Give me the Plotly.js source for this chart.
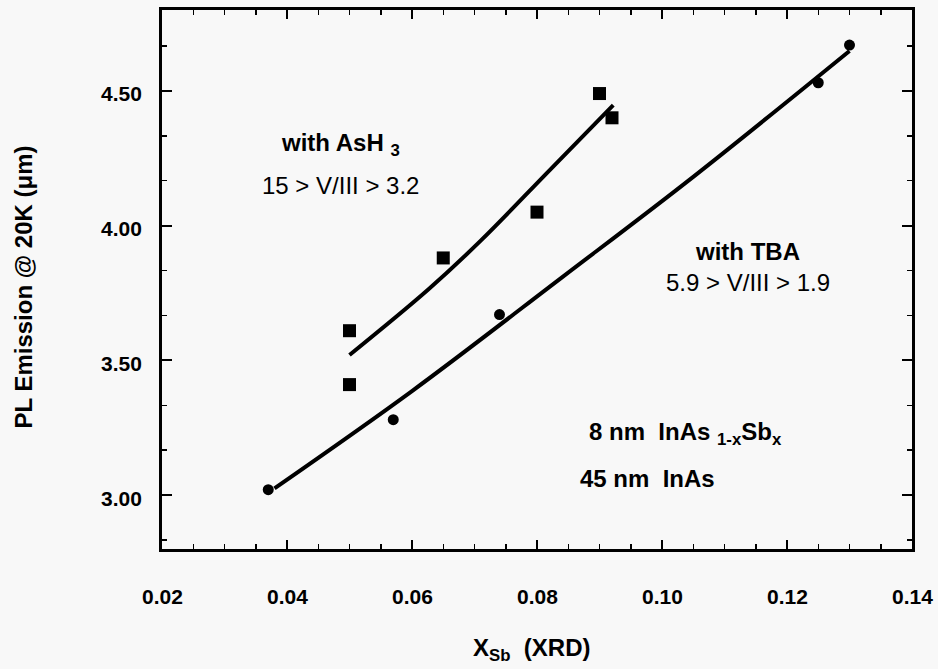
<!DOCTYPE html>
<html>
<head>
<meta charset="utf-8">
<script src="https://cdn.plot.ly/plotly-3.0.1.min.js"></script>
<style>html,body{margin:0;padding:0;background:#f8f8f8;}</style>
</head>
<body>
<div id="chart" style="width:938px;height:669px;"></div>
<script>
// Measured points: samples grown with AsH3 (squares)
const asX = [0.050, 0.050, 0.065, 0.080, 0.090, 0.092];
const asY = [3.61, 3.41, 3.88, 4.05, 4.49, 4.40];
// Measured points: samples grown with TBA (circles)
const tbaX = [0.037, 0.057, 0.074, 0.125, 0.130];
const tbaY = [3.02, 3.28, 3.67, 4.53, 4.67];
// Fit curves
const asFitX = [0.050, 0.0626, 0.071, 0.082, 0.0922];
const asFitY = [3.52, 3.763, 3.944, 4.205, 4.447];
const tbaFitX = [0.038, 0.060, 0.084, 0.105, 0.130];
const tbaFitY = [3.025, 3.386, 3.808, 4.181, 4.648];
// Axis ticks and titles
const xTicks = [0.02, 0.04, 0.06, 0.08, 0.10, 0.12, 0.14];
const xTickText = ['0.02', '0.04', '0.06', '0.08', '0.10', '0.12', '0.14'];
const yTicks = [3.00, 3.50, 4.00, 4.50];
const yTickText = ['3.00', '3.50', '4.00', '4.50'];
const xRange = [0.02, 0.14];
const yRange = [2.8, 4.8];
const xTitle = 'X<sub>Sb</sub>  (XRD)';
const yTitle = 'PL Emission @ 20K (μm)';

const FONT = "'Liberation Sans', Arial, Helvetica, sans-serif";
const tickFont = {family: FONT, size: 21, color: '#000', weight: 'bold'};
const titleFont = {family: FONT, size: 24, color: '#000', weight: 'bold'};

const traces = [
  {x: asFitX, y: asFitY, type: 'scatter', mode: 'lines', line: {color: '#000', width: 4, shape: 'spline'}, hoverinfo: 'skip', showlegend: false},
  {x: tbaFitX, y: tbaFitY, type: 'scatter', mode: 'lines', line: {color: '#000', width: 4, shape: 'spline'}, hoverinfo: 'skip', showlegend: false},
  {x: asX, y: asY, type: 'scatter', mode: 'markers', marker: {symbol: 'square', size: 13, color: '#000'}, name: 'with AsH3', showlegend: false},
  {x: tbaX, y: tbaY, type: 'scatter', mode: 'markers', marker: {symbol: 'circle', size: 11, color: '#000'}, name: 'with TBA', showlegend: false}
];

// tick labels and axis titles as text placed on the axis scales outside the frame
const axisText = [];
xTicks.forEach((v, i) => axisText.push({
  x: v, xref: 'x', y: 0, yref: 'paper', yanchor: 'middle', xanchor: 'center', yshift: -47,
  text: xTickText[i], showarrow: false, font: tickFont
}));
yTicks.forEach((v, i) => axisText.push({
  x: 0, xref: 'paper', y: v, yref: 'y', xanchor: 'right', yanchor: 'middle', xshift: -18, yshift: -3,
  text: yTickText[i], showarrow: false, font: tickFont
}));
axisText.push({
  x: 0.5, xref: 'paper', y: 0, yref: 'paper', yanchor: 'middle', xanchor: 'center', xshift: -6, yshift: -100,
  text: xTitle, showarrow: false, font: titleFont
});
axisText.push({
  x: 0, xref: 'paper', y: 0.5, yref: 'paper', xanchor: 'center', yanchor: 'middle', xshift: -139, yshift: -8,
  textangle: -90, text: yTitle, showarrow: false, font: titleFont
});

const layout = {
  width: 938, height: 669,
  margin: {l: 162, r: 26, t: 10, b: 120},
  paper_bgcolor: '#f8f8f8', plot_bgcolor: '#f8f8f8',
  font: {family: FONT, color: '#000'},
  showlegend: false,
  xaxis: {
    range: xRange, tickmode: 'array', tickvals: xTicks, showticklabels: false,
    showgrid: false, zeroline: false, showline: true, linecolor: '#000', linewidth: 3,
    mirror: 'allticks', ticks: 'inside', tickcolor: '#000', tickwidth: 2, ticklen: 9,
    minor: {dtick: 0.005, tick0: 0.02, ticks: 'inside', ticklen: 5, tickwidth: 1.5, tickcolor: '#000', showgrid: false}
  },
  yaxis: {
    range: yRange, tickmode: 'array', tickvals: yTicks, showticklabels: false,
    showgrid: false, zeroline: false, showline: true, linecolor: '#000', linewidth: 3,
    mirror: 'allticks', ticks: 'inside', tickcolor: '#000', tickwidth: 2, ticklen: 10,
    minor: {dtick: 0.5 / 3, tick0: 3.0, ticks: 'inside', ticklen: 5, tickwidth: 1.5, tickcolor: '#000', showgrid: false}
  },
  annotations: [
    {x: 0.0485, y: 4.30, xref: 'x', yref: 'y', text: 'with AsH <sub>3</sub>', showarrow: false,
     font: titleFont, xanchor: 'center', yanchor: 'middle'},
    {x: 0.0485, y: 4.148, xref: 'x', yref: 'y', text: '15 &gt; V/III &gt; 3.2', showarrow: false,
     font: {family: FONT, size: 24, color: '#000', weight: 'normal'}, xanchor: 'center', yanchor: 'middle'},
    {x: 0.1137, y: 3.905, xref: 'x', yref: 'y', text: 'with TBA', showarrow: false,
     font: titleFont, xanchor: 'center', yanchor: 'middle'},
    {x: 0.1137, y: 3.79, xref: 'x', yref: 'y', text: '5.9 &gt; V/III &gt; 1.9', showarrow: false,
     font: {family: FONT, size: 24, color: '#000', weight: 'normal'}, xanchor: 'center', yanchor: 'middle'},
    {x: 0.088, y: 3.23, xref: 'x', yref: 'y', text: '8 nm\u00a0\u00a0InAs <sub>1-x</sub>Sb<sub>x</sub>', showarrow: false,
     font: titleFont, xanchor: 'left', yanchor: 'middle'},
    {x: 0.1088, y: 3.063, xref: 'x', yref: 'y', text: '45 nm\u00a0\u00a0InAs', showarrow: false,
     font: titleFont, xanchor: 'right', yanchor: 'middle'}
  ].concat(axisText)
};

Plotly.newPlot('chart', traces, layout, {displayModeBar: false, staticPlot: true});
</script>
</body>
</html>
